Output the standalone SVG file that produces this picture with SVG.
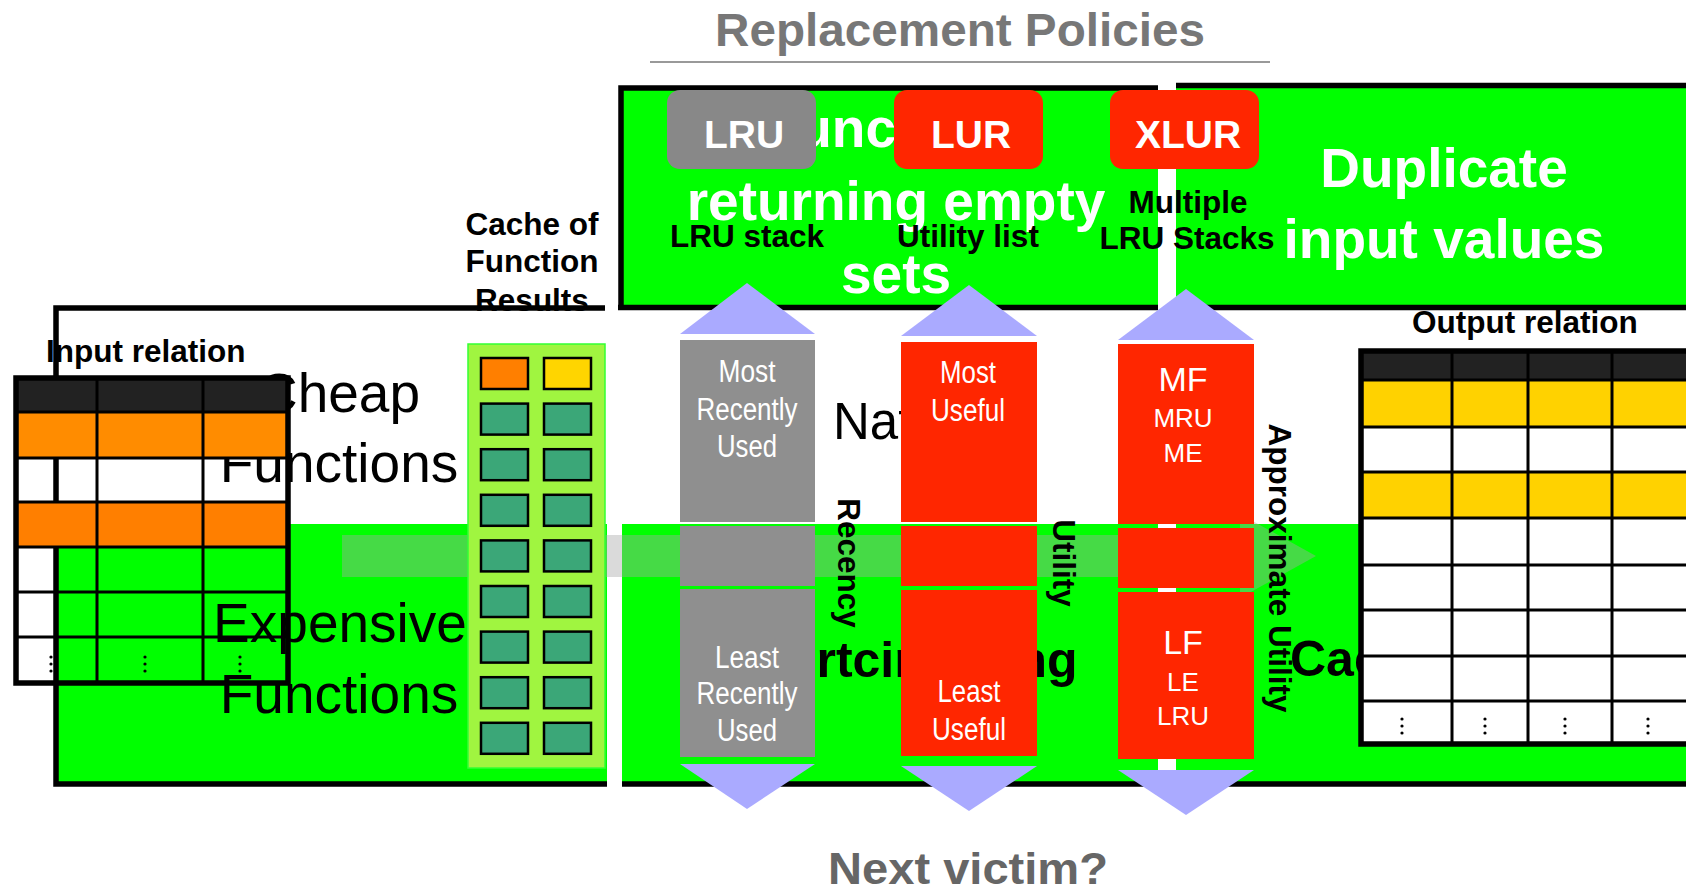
<svg xmlns="http://www.w3.org/2000/svg" width="1686" height="893" viewBox="0 0 1686 893">
  <style>
    text { font-family: "Liberation Sans", Arial, sans-serif; }
    .lbl { font-weight: bold; font-size: 31.5px; fill: #000; }
    .mid { text-anchor: middle; }
    .big { font-weight: bold; font-size: 55px; fill: #fff; text-anchor: middle; }
    .fn { font-size: 55px; fill: #000; text-anchor: middle; }
    .badge-t { font-weight: bold; font-size: 39px; fill: #fff; text-anchor: middle; }
    .col-t { font-size: 31px; fill: #fff; text-anchor: middle; }
    .xl { font-size: 34px; fill: #fff; text-anchor: middle; }
    .xs { font-size: 26px; fill: #fff; text-anchor: middle; }
    .green { fill: #00ff00; }
    .edge { fill: none; stroke: #000; stroke-width: 5.5; }
    .grid { fill: none; stroke: #000; stroke-width: 3; }
    .tri { fill: #aaaaff; }
    .gray { fill: #8f8f8f; }
    .red { fill: #ff2600; }
    .cell { fill: #3ba778; stroke: #000; stroke-width: 2.5; }
    .dot { fill: #000; }
  </style>

  <rect width="1686" height="893" fill="#fff"/>

  <!-- top banners -->
  <g id="empty-sets">
    <rect class="green" x="621" y="88" width="537" height="220"/>
    <path class="edge" d="M621,310 V88 H1158 M618,307.5 H1158"/>
    <text class="big" x="896" y="147">Functions</text>
    <text class="big" x="896" y="220">returning empty</text>
    <text class="big" x="896" y="293">sets</text>
  </g>
  <g id="duplicates">
    <rect class="green" x="1176" y="86" width="510" height="222"/>
    <path class="edge" d="M1176,85.5 H1686 M1176,307.5 H1686"/>
    <text class="big" x="1444" y="187">Duplicate</text>
    <text class="big" x="1444" y="258">input values</text>
  </g>

  <g id="cache-label">
    <text class="lbl mid" x="532" y="235">Cache of</text>
    <text class="lbl mid" x="532" y="272">Function</text>
    <text class="lbl mid" x="532" y="311">Results</text>
  </g>

  <!-- lower panels -->
  <g id="functions-panel">
    <rect class="green" x="56" y="524" width="551" height="260"/>
    <path class="edge" d="M605,308 H56 V784 H607"/>
    <text class="fn" x="339" y="412">Cheap</text>
    <text class="fn" x="339" y="482">Functions</text>
    <text class="fn" x="340" y="642">Expensive</text>
    <text class="fn" x="339" y="713">Functions</text>
  </g>
  <g id="shortcircuit-panel">
    <rect class="green" x="622" y="524" width="536" height="260"/>
    <path class="edge" d="M622,784 H1158"/>
    <text x="833" y="439" font-size="51" fill="#000">Nat</text>
    <text x="722" y="677" font-size="50" font-weight="bold" fill="#000">Shortcircuiting</text>
  </g>
  <g id="caching-panel">
    <rect class="green" x="1176" y="524" width="510" height="260"/>
    <path class="edge" d="M1176,784 H1686"/>
    <text x="1290" y="676" font-size="50" font-weight="bold" fill="#000">Caching</text>
  </g>

  <!-- input relation -->
  <g id="input-relation">
    <text class="lbl" x="46" y="362">Input relation</text>
    <rect x="16" y="378" width="272" height="34" fill="#222"/>
    <rect x="16" y="412" width="272" height="46" fill="#ff8c00"/>
    <rect x="16" y="502" width="272" height="45" fill="#ff7f00"/>
    <path class="grid" d="M16,412 H288 M16,458 H288 M16,502 H288 M16,547 H288 M16,592 H288 M16,637 H288 M97,378 V683 M203,378 V683"/>
    <rect class="edge" x="16" y="378" width="272" height="305"/>
    <g class="dot">
      <circle cx="51" cy="657" r="1.6"/><circle cx="51" cy="664" r="1.6"/><circle cx="51" cy="671" r="1.6"/>
      <circle cx="145" cy="657" r="1.6"/><circle cx="145" cy="664" r="1.6"/><circle cx="145" cy="671" r="1.6"/>
      <circle cx="240" cy="657" r="1.6"/><circle cx="240" cy="664" r="1.6"/><circle cx="240" cy="671" r="1.6"/>
    </g>
  </g>

  <g id="connectors">
    <path d="M342,535 H1240 V514 L1316,556 L1240,598 V577 H342 Z" fill="#a6a6a6" opacity="0.42"/>
  </g>

  <!-- cache of function results -->
  <g id="cache">
    <rect x="468" y="344" width="137" height="424" fill="#a0f540" stroke="#33ff33" stroke-width="1.5"/>
    <rect x="481" y="358" width="47" height="31" fill="#ff7f00" stroke="#000" stroke-width="2.5"/>
    <rect x="544" y="358" width="47" height="31" fill="#ffd500" stroke="#000" stroke-width="2.5"/>
    <rect class="cell" x="481" y="403.6" width="47" height="31"/><rect class="cell" x="544" y="403.6" width="47" height="31"/>
    <rect class="cell" x="481" y="449.2" width="47" height="31"/><rect class="cell" x="544" y="449.2" width="47" height="31"/>
    <rect class="cell" x="481" y="494.8" width="47" height="31"/><rect class="cell" x="544" y="494.8" width="47" height="31"/>
    <rect class="cell" x="481" y="540.4" width="47" height="31"/><rect class="cell" x="544" y="540.4" width="47" height="31"/>
    <rect class="cell" x="481" y="586" width="47" height="31"/><rect class="cell" x="544" y="586" width="47" height="31"/>
    <rect class="cell" x="481" y="631.6" width="47" height="31"/><rect class="cell" x="544" y="631.6" width="47" height="31"/>
    <rect class="cell" x="481" y="677.2" width="47" height="31"/><rect class="cell" x="544" y="677.2" width="47" height="31"/>
    <rect class="cell" x="481" y="722.8" width="47" height="31"/><rect class="cell" x="544" y="722.8" width="47" height="31"/>
  </g>

  <!-- LRU policy -->
  <g id="lru">
    <rect x="667" y="90" width="149" height="79" rx="13" fill="#888"/>
    <text class="badge-t" x="744" y="148">LRU</text>
    <text class="lbl mid" x="747" y="247">LRU stack</text>
    <polygon class="tri" points="747,283 815,334 680,334"/>
    <rect class="gray" x="680" y="340" width="135" height="182"/>
    <rect class="gray" x="680" y="526" width="135" height="60"/>
    <rect class="gray" x="680" y="589" width="135" height="168"/>
    <text class="col-t" x="747" y="382" textLength="57" lengthAdjust="spacingAndGlyphs">Most</text>
    <text class="col-t" x="747" y="420" textLength="101" lengthAdjust="spacingAndGlyphs">Recently</text>
    <text class="col-t" x="747" y="457" textLength="60" lengthAdjust="spacingAndGlyphs">Used</text>
    <text class="col-t" x="747" y="668" textLength="64" lengthAdjust="spacingAndGlyphs">Least</text>
    <text class="col-t" x="747" y="704" textLength="101" lengthAdjust="spacingAndGlyphs">Recently</text>
    <text class="col-t" x="747" y="741" textLength="60" lengthAdjust="spacingAndGlyphs">Used</text>
    <polygon class="tri" points="680,764 815,764 747,809"/>
    <text class="lbl mid" transform="translate(838,563) rotate(90)">Recency</text>
  </g>

  <!-- LUR policy -->
  <g id="lur">
    <rect x="894" y="90" width="149" height="79" rx="13" fill="#ff2600"/>
    <text class="badge-t" x="971" y="148">LUR</text>
    <text class="lbl mid" x="968" y="247">Utility list</text>
    <polygon class="tri" points="969,285 1037,336 901,336"/>
    <rect class="red" x="901" y="342" width="136" height="180"/>
    <rect class="red" x="901" y="526" width="136" height="60"/>
    <rect class="red" x="901" y="590" width="136" height="166"/>
    <text class="col-t" x="968" y="383" textLength="56" lengthAdjust="spacingAndGlyphs">Most</text>
    <text class="col-t" x="968" y="421" textLength="74" lengthAdjust="spacingAndGlyphs">Useful</text>
    <text class="col-t" x="969" y="702" textLength="63" lengthAdjust="spacingAndGlyphs">Least</text>
    <text class="col-t" x="969" y="740" textLength="74" lengthAdjust="spacingAndGlyphs">Useful</text>
    <polygon class="tri" points="901,766 1037,766 969,811"/>
    <text class="lbl mid" transform="translate(1053,563) rotate(90)">Utility</text>
  </g>

  <!-- XLUR policy -->
  <g id="xlur">
    <rect x="1110" y="90" width="149" height="79" rx="13" fill="#ff2600"/>
    <text class="badge-t" x="1188" y="148">XLUR</text>
    <text class="lbl mid" x="1188" y="213">Multiple</text>
    <text class="lbl mid" x="1187" y="249">LRU Stacks</text>
    <polygon class="tri" points="1186,289 1254,340 1118,340"/>
    <rect class="red" x="1118" y="344" width="136" height="180"/>
    <rect class="red" x="1118" y="528" width="136" height="60"/>
    <rect class="red" x="1118" y="592" width="136" height="167"/>
    <text class="xl" x="1183" y="391">MF</text>
    <text class="xs" x="1183" y="427">MRU</text>
    <text class="xs" x="1183" y="462">ME</text>
    <text class="xl" x="1183" y="654" font-size="33">LF</text>
    <text class="xs" x="1183" y="691">LE</text>
    <text class="xs" x="1183" y="725">LRU</text>
    <polygon class="tri" points="1118,770 1254,770 1186,815"/>
    <text class="lbl mid" transform="translate(1269,568) rotate(90)">Approximate Utility</text>
  </g>

  <!-- output relation -->
  <g id="output-relation">
    <text class="lbl" x="1412" y="333">Output relation</text>
    <rect x="1361" y="351" width="330" height="393" fill="#fff"/>
    <rect x="1361" y="351" width="330" height="29" fill="#222"/>
    <rect x="1361" y="380" width="330" height="47" fill="#ffd200"/>
    <rect x="1361" y="472" width="330" height="46" fill="#ffd200"/>
    <path class="grid" d="M1361,380 H1686 M1361,427 H1686 M1361,472 H1686 M1361,518 H1686 M1361,565 H1686 M1361,610 H1686 M1361,656 H1686 M1361,701 H1686 M1452,351 V744 M1528,351 V744 M1612,351 V744"/>
    <path class="edge" d="M1690,351 H1361 V744 H1690"/>
    <g class="dot">
      <circle cx="1402" cy="719" r="1.6"/><circle cx="1402" cy="726" r="1.6"/><circle cx="1402" cy="733" r="1.6"/>
      <circle cx="1485" cy="719" r="1.6"/><circle cx="1485" cy="726" r="1.6"/><circle cx="1485" cy="733" r="1.6"/>
      <circle cx="1565" cy="719" r="1.6"/><circle cx="1565" cy="726" r="1.6"/><circle cx="1565" cy="733" r="1.6"/>
      <circle cx="1648" cy="719" r="1.6"/><circle cx="1648" cy="726" r="1.6"/><circle cx="1648" cy="733" r="1.6"/>
    </g>
  </g>

  <g id="title">
    <text x="960" y="46" font-size="46" font-weight="bold" fill="#777" text-anchor="middle" textLength="490" lengthAdjust="spacingAndGlyphs">Replacement Policies</text>
    <line x1="650" y1="62" x2="1270" y2="62" stroke="#999" stroke-width="2"/>
  </g>

  <g id="victim">
    <text x="968" y="884" font-size="44" font-weight="bold" fill="#666" text-anchor="middle" textLength="280" lengthAdjust="spacingAndGlyphs">Next victim?</text>
  </g>
</svg>
